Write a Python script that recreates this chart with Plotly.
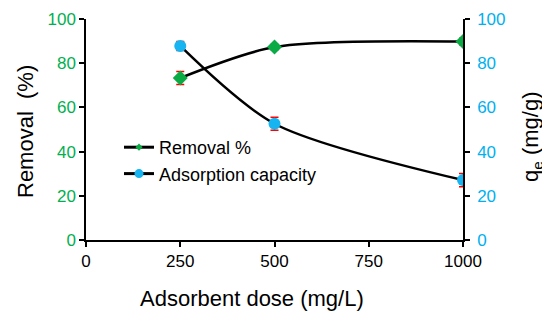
import plotly.graph_objects as go

dose = [250, 500, 1000]
removal = [73.3, 87.3, 89.8]
removal_err = [2.9, 1.2, 1.5]
capacity = [87.8, 52.6, 27.1]
capacity_err = [2.0, 2.9, 3.0]
x_ticks = [0, 250, 500, 750, 1000]
y_ticks = [0, 20, 40, 60, 80, 100]

FONT = "Liberation Sans, Arial, sans-serif"
GREEN = "#00B050"
BLUE = "#00B0F0"
RED = "#FF0000"
MK_GREEN = "#0AAA44"
MK_BLUE = "#16B4F0"

# page body has an 8px margin; work in page pixel coordinates
OFF = 8
W, H = 550 - OFF, 322 - OFF
PX0, PX1, PY0, PY1 = 86, 463, 19, 240  # plot area in page pixels
L, R, T, B = PX0 - OFF, (W + OFF) - PX1, PY0 - OFF, (H + OFF) - PY1
PW = PX1 - PX0
PH = PY1 - PY0


def fx(px):
    return (px - PX0) / PW


def fy(py):
    return (PY1 - py) / PH


fig = go.Figure()
fig.add_trace(go.Scatter(
    x=dose, y=removal, name="Removal %", mode="lines+markers", showlegend=False,
    line=dict(color="black", width=2.5, shape="spline", smoothing=0.8),
    marker=dict(symbol="diamond", size=11.5, color=MK_GREEN),
    error_y=dict(type="data", array=removal_err, color=RED, thickness=1.5, width=4),
    yaxis="y",
))
fig.add_trace(go.Scatter(
    x=dose, y=capacity, name="Adsorption capacity", mode="lines+markers", showlegend=False,
    line=dict(color="black", width=2.5, shape="spline", smoothing=0.8),
    marker=dict(symbol="circle", size=12, color=MK_BLUE),
    error_y=dict(type="data", array=capacity_err, color=RED, thickness=1.5, width=4),
    yaxis="y2",
))
# legend entries (small markers as in the reference legend)
fig.add_trace(go.Scatter(x=[None], y=[None], name="Removal %", mode="lines+markers",
                         line=dict(color="black", width=3),
                         marker=dict(symbol="diamond", size=5.5, color=MK_GREEN)))
fig.add_trace(go.Scatter(x=[None], y=[None], name="Adsorption capacity", mode="lines+markers",
                         line=dict(color="black", width=3),
                         marker=dict(symbol="circle", size=9, color=MK_BLUE)))

axis_common = dict(showline=True, linecolor="black", linewidth=1.5, ticks="outside",
                   ticklen=5, tickcolor="black", tickwidth=1.5, showgrid=False,
                   zeroline=False, automargin=False)

fig.update_layout(
    width=W, height=H,
    margin=dict(l=L, r=R, t=T, b=B, autoexpand=False),
    paper_bgcolor="white", plot_bgcolor="white",
    font=dict(family=FONT, color="black"),
    showlegend=True,
    legend=dict(x=fx(119), y=fy(129), xanchor="left", yanchor="top",
                font=dict(size=18, family=FONT, color="black"),
                bgcolor="rgba(0,0,0,0)", itemsizing="trace"),
    xaxis=dict(range=[0, 1000], tickvals=x_ticks, tickfont=dict(size=17, color="black"),
               **axis_common),
    yaxis=dict(range=[0, 100], tickvals=y_ticks, tickfont=dict(size=17, color=GREEN),
               **axis_common),
    yaxis2=dict(range=[0, 100], tickvals=y_ticks, tickfont=dict(size=17, color=BLUE),
                overlaying="y", side="right", ticklabelstandoff=4, **axis_common),
    annotations=[
        dict(text="Adsorbent dose (mg/L)", xref="paper", yref="paper",
             x=fx(252), y=fy(298), xanchor="center", yanchor="middle",
             showarrow=False, font=dict(size=22, color="black")),
        dict(text="Removal\u00a0\u00a0(%)", xref="paper", yref="paper",
             x=fx(25), y=fy(131), xanchor="center", yanchor="middle",
             textangle=-90, showarrow=False, font=dict(size=22, color="black")),
        dict(text="q<sub>e</sub> (mg/g)", xref="paper", yref="paper",
             x=fx(532), y=fy(137), xanchor="center", yanchor="middle",
             textangle=-90, showarrow=False, font=dict(size=22, color="black")),
    ],
)

fig.write_html("out.html")
